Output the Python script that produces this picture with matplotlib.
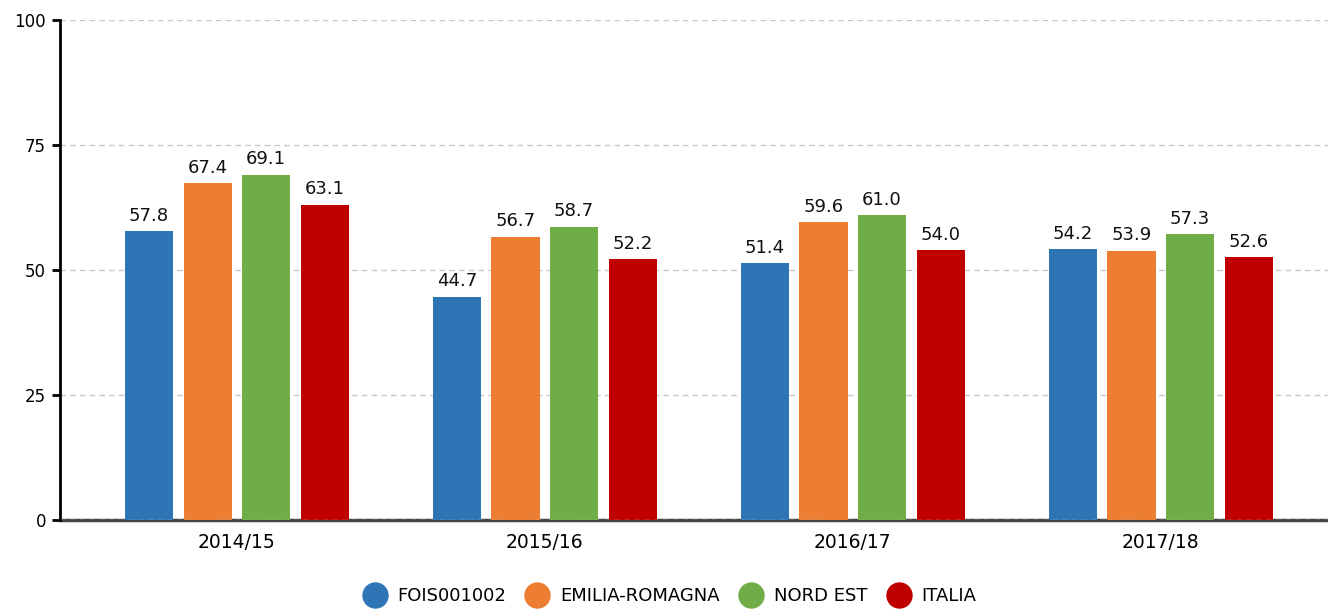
import matplotlib
matplotlib.use("Agg")
import matplotlib.pyplot as plt
from matplotlib.lines import Line2D
import numpy as np

categories = ["2014/15", "2015/16", "2016/17", "2017/18"]
series_names = ["FOIS001002", "EMILIA-ROMAGNA", "NORD EST", "ITALIA"]
fois = [57.8, 44.7, 51.4, 54.2]
emilia = [67.4, 56.7, 59.6, 53.9]
nord_est = [69.1, 58.7, 61.0, 57.3]
italia = [63.1, 52.2, 54.0, 52.6]
colors = ["#2E75B6", "#ED7D31", "#70AD47", "#C00000"]

plt.rcParams['font.family'] = ['DejaVu Sans']
fig = plt.figure(figsize=(13.28, 6.10), dpi=100)
ax = fig.add_axes([60/1328, 90/610, 1268/1328, 500/610])

x = np.arange(len(categories))
width = 0.156
step = 0.19
offsets = [-1.5*step, -0.5*step, 0.5*step, 1.5*step]
for vals, off, col in zip([fois, emilia, nord_est, italia], offsets, colors):
    bars = ax.bar(x + off, vals, width, color=col, zorder=3)
    for b, v in zip(bars, vals):
        ax.text(b.get_x() + b.get_width()/2, v + 1.2, f"{v:.1f}", ha="center",
                va="bottom", fontsize=13, color="#111111", zorder=4)

ax.set_ylim(0, 100)
ax.set_xlim(-0.574, 3.543)
ax.set_yticks([0, 25, 50, 75, 100])
ax.set_xticks(x)
ax.set_xticklabels(categories)
ax.tick_params(axis='y', labelsize=12, length=6, width=2, color='black', pad=4)
ax.tick_params(axis='x', labelsize=13.5, length=0, pad=9)
ax.grid(axis='y', color='#c8c8c8', linestyle=(0, (4, 3)), linewidth=1, zorder=0)
for s in ["top", "right"]:
    ax.spines[s].set_visible(False)
ax.spines["left"].set_linewidth(2)
ax.spines["left"].set_color("black")
ax.spines["bottom"].set_linewidth(2.5)
ax.spines["bottom"].set_color("#444444")
ax.spines["bottom"].set_zorder(2)
ax.axhline(0, color='#bbbbbb', linestyle=(0, (4, 3)), linewidth=1, zorder=5)

handles = [Line2D([0], [0], marker='o', linestyle='none', markersize=18,
                  markerfacecolor=c, markeredgecolor=c) for c in colors]
fig.legend(handles, series_names, loc='center', bbox_to_anchor=(669/1328, 1 - 596/610),
           ncol=4, frameon=False, fontsize=13, handletextpad=0.55, columnspacing=1.05,
           handlelength=1.39, borderpad=0, borderaxespad=0)

fig.savefig("out.png", dpi=100)
